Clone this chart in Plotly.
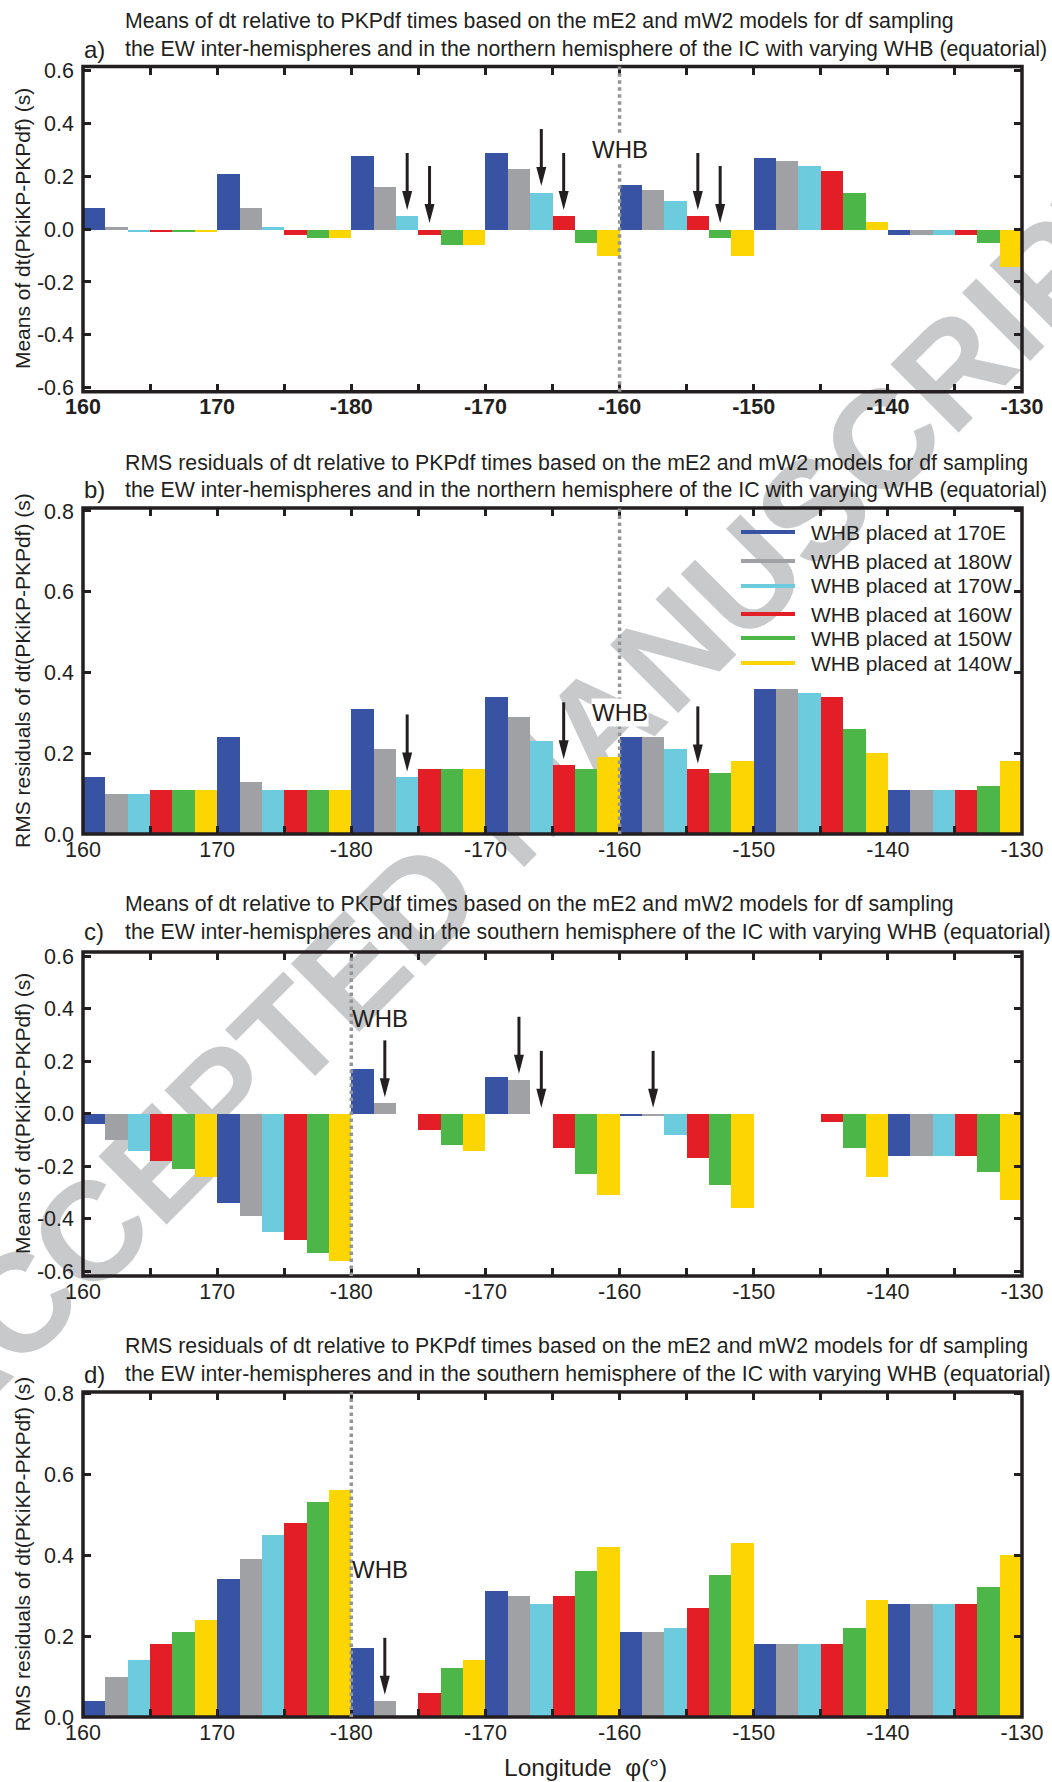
import plotly.graph_objects as go

# ---------------------------------------------------------------- data
group_centers = [165, 175, 185, 195, 205, 215, 225]          # 10-degree longitude bins
series_names = ["WHB placed at 170E", "WHB placed at 180W", "WHB placed at 170W",
                "WHB placed at 160W", "WHB placed at 150W", "WHB placed at 140W"]
series_colors = ["#3953a4", "#a0a1a5", "#6ccbdc", "#e41e26", "#4cb748", "#fdd500"]

x_tick_vals = [160, 170, 180, 190, 200, 210, 220, 230]
x_tick_text = ["160", "170", "-180", "-170", "-160", "-150", "-140", "-130"]

# panel a: means, northern hemisphere (one row per WHB placement)
means_north = [
    [0.08, 0.21, 0.28, 0.29, 0.17, 0.27, -0.02],
    [0.01, 0.08, 0.16, 0.23, 0.15, 0.26, -0.02],
    [-0.01, 0.01, 0.05, 0.14, 0.11, 0.24, -0.02],
    [-0.01, -0.02, -0.02, 0.05, 0.05, 0.22, -0.02],
    [-0.01, -0.03, -0.06, -0.05, -0.03, 0.14, -0.05],
    [-0.01, -0.03, -0.06, -0.10, -0.10, 0.03, -0.14],
]
# panel b: RMS residuals, northern hemisphere
rms_north = [
    [0.14, 0.24, 0.31, 0.34, 0.24, 0.36, 0.11],
    [0.10, 0.13, 0.21, 0.29, 0.24, 0.36, 0.11],
    [0.10, 0.11, 0.14, 0.23, 0.21, 0.35, 0.11],
    [0.11, 0.11, 0.16, 0.17, 0.16, 0.34, 0.11],
    [0.11, 0.11, 0.16, 0.16, 0.15, 0.26, 0.12],
    [0.11, 0.11, 0.16, 0.19, 0.18, 0.20, 0.18],
]
# panel c: means, southern hemisphere
means_south = [
    [-0.04, -0.34, 0.17, 0.14, -0.01, 0.00, -0.16],
    [-0.10, -0.39, 0.04, 0.13, -0.01, 0.00, -0.16],
    [-0.14, -0.45, 0.00, 0.00, -0.08, 0.00, -0.16],
    [-0.18, -0.48, -0.06, -0.13, -0.17, -0.03, -0.16],
    [-0.21, -0.53, -0.12, -0.23, -0.27, -0.13, -0.22],
    [-0.24, -0.56, -0.14, -0.31, -0.36, -0.24, -0.33],
]
# panel d: RMS residuals, southern hemisphere
rms_south = [
    [0.04, 0.34, 0.17, 0.31, 0.21, 0.18, 0.28],
    [0.10, 0.39, 0.04, 0.30, 0.21, 0.18, 0.28],
    [0.14, 0.45, 0.00, 0.28, 0.22, 0.18, 0.28],
    [0.18, 0.48, 0.06, 0.30, 0.27, 0.18, 0.28],
    [0.21, 0.53, 0.12, 0.36, 0.35, 0.22, 0.32],
    [0.24, 0.56, 0.14, 0.42, 0.43, 0.29, 0.40],
]

# arrows mark (bin index, WHB placement index)
arrows_a = [(2, 2), (2, 3), (3, 2), (3, 3), (4, 3), (4, 4)]
arrows_b = [(2, 2), (3, 3), (4, 3)]
arrows_c = [(2, 1), (3, 1), (3, 2), (4, 1)]
arrows_d = [(2, 1)]

title_mean = "Means of dt relative to PKPdf times based on the mE2 and mW2 models for df sampling"
title_rms = "RMS residuals of dt relative to PKPdf times based on the mE2 and mW2 models for df sampling"
sub_north = "the EW inter-hemispheres and in the northern hemisphere of the IC with varying WHB (equatorial)"
sub_south = "the EW inter-hemispheres and in the southern hemisphere of the IC with varying WHB (equatorial)"
ylab_mean = "Means of dt(PKiKP-PKPdf) (s)"
ylab_rms = "RMS residuals of dt(PKiKP-PKPdf) (s)"

# ---------------------------------------------------------------- layout geometry (pixels)
W, H = 1052, 1782
ML, MR = 83, 30
PW = W - ML - MR
FONT = "Liberation Sans, Arial, Helvetica, sans-serif"
INK = "#231f20"

panels = [
    dict(letter="a)", vals=means_north, top=66.5, bot=391.7, yr=[-0.615, 0.615],
         ticks=[-0.6, -0.4, -0.2, 0.0, 0.2, 0.4, 0.6], title=title_mean, sub=sub_north,
         ylab=ylab_mean, whb=200, whb_y=0.30, whb_anchor="center", arrows=arrows_a,
         t1=21, t2=49, xweight="bold"),
    dict(letter="b)", vals=rms_north, top=508, bot=834, yr=[0, 0.8074],
         ticks=[0.0, 0.2, 0.4, 0.6, 0.8], title=title_rms, sub=sub_north,
         ylab=ylab_rms, whb=200, whb_y=0.30, whb_anchor="center", arrows=arrows_b,
         t1=463, t2=490, xweight="normal"),
    dict(letter="c)", vals=means_south, top=952, bot=1276, yr=[-0.618, 0.617],
         ticks=[-0.6, -0.4, -0.2, 0.0, 0.2, 0.4, 0.6], title=title_mean, sub=sub_south,
         ylab=ylab_mean, whb=180, whb_y=0.365, whb_anchor="left", arrows=arrows_c,
         t1=904, t2=932, xweight="normal"),
    dict(letter="d)", vals=rms_south, top=1392, bot=1717, yr=[0, 0.8025],
         ticks=[0.0, 0.2, 0.4, 0.6, 0.8], title=title_rms, sub=sub_south,
         ylab=ylab_rms, whb=180, whb_y=0.365, whb_anchor="left", arrows=arrows_d,
         t1=1346, t2=1374, xweight="normal"),
]


def px_x(px):
    return (px - ML) / PW


def px_y(py):
    return 1 - py / H


bin_w = 10.0
bar_w = bin_w / len(series_names)
x_ppu = PW / 70.0

fig = go.Figure()
shapes, annotations = [], []

for k, p in enumerate(panels):
    sfx = "" if k == 0 else str(k + 1)
    xa, ya = "x" + sfx, "y" + sfx
    for s, (name, col) in enumerate(zip(series_names, series_colors)):
        fig.add_trace(go.Bar(x=group_centers, y=p["vals"][s], name=name,
                             marker=dict(color=col, line=dict(width=0)),
                             showlegend=False, xaxis=xa, yaxis=ya))

    dom = [px_y(p["bot"]), px_y(p["top"])]
    fig.layout["xaxis" + sfx] = dict(
        domain=[0, 1], anchor=ya, range=[160, 230],
        tickvals=list(range(160, 231, 5)),
        ticktext=[x_tick_text[x_tick_vals.index(v)] if v in x_tick_vals else "" for v in range(160, 231, 5)],
        ticks="inside", ticklen=8, tickwidth=2.5, tickcolor=INK,
        showline=False, mirror="ticks", showgrid=False, zeroline=False,
        tickfont=dict(family=FONT, size=21.5, color=INK, weight=p["xweight"]))
    fig.layout["yaxis" + sfx] = dict(
        domain=dom, anchor=xa, range=p["yr"],
        tickvals=p["ticks"], ticktext=["%.1f" % v for v in p["ticks"]],
        ticks="inside", ticklen=8, tickwidth=2.5, tickcolor=INK,
        showline=False, mirror="ticks", showgrid=False, zeroline=False,
        ticklabelstandoff=8,
        tickfont=dict(family=FONT, size=21.5, color=INK))

    # heavy frame centred on the plot edges
    shapes.append(dict(type="rect", xref=xa + " domain", yref=ya + " domain", x0=0, x1=1, y0=0, y1=1,
                       line=dict(color=INK, width=3.5), fillcolor="rgba(0,0,0,0)", layer="above"))

    # titles
    annotations.append(dict(text=p["title"], x=px_x(123), y=px_y(p["t1"]), xref="paper", yref="paper",
                            xanchor="left", yanchor="middle", showarrow=False,
                            font=dict(family=FONT, size=21.3, color=INK)))
    annotations.append(dict(text=p["sub"], x=px_x(123), y=px_y(p["t2"]), xref="paper", yref="paper",
                            xanchor="left", yanchor="middle", showarrow=False,
                            font=dict(family=FONT, size=21.3, color=INK)))
    annotations.append(dict(text=p["letter"], x=px_x(82), y=px_y(p["t2"]), xref="paper", yref="paper",
                            xanchor="left", yanchor="middle", showarrow=False,
                            font=dict(family=FONT, size=24, color=INK)))
    # y-axis label
    annotations.append(dict(text=p["ylab"], x=px_x(22), y=px_y((p["top"] + p["bot"]) / 2),
                            xref="paper", yref="paper", xanchor="center", yanchor="middle",
                            textangle=-90, showarrow=False,
                            font=dict(family=FONT, size=21, color=INK)))

    # WHB boundary
    shapes.append(dict(type="line", xref=xa, yref=ya + " domain", x0=p["whb"], x1=p["whb"], y0=0, y1=1,
                       line=dict(color="#939598", width=3.5, dash="dot"), layer="above"))
    annotations.append(dict(text="WHB", x=p["whb"], y=p["whb_y"], xref=xa, yref=ya,
                            xanchor=p["whb_anchor"], yanchor="middle", showarrow=False,
                            bgcolor="white" if p["whb_anchor"] == "center" else "rgba(0,0,0,0)",
                            borderpad=0,
                            font=dict(family=FONT, size=24, color=INK)))

    # arrows
    y_ppu = (p["bot"] - p["top"]) / (p["yr"][1] - p["yr"][0])
    for gi, si in p["arrows"]:
        xc = group_centers[gi] - bin_w / 2 + (si + 0.5) * bar_w
        tip = max(p["vals"][si][gi], 0) + 6 / y_ppu
        base = tip + 19 / y_ppu
        top = tip + 57 / y_ppu
        hw = 5 / x_ppu
        shapes.append(dict(type="line", xref=xa, yref=ya, x0=xc, x1=xc, y0=top, y1=base - 1 / y_ppu,
                           line=dict(color=INK, width=3), layer="above"))
        shapes.append(dict(type="path", xref=xa, yref=ya,
                           path="M %f,%f L %f,%f L %f,%f Z" % (xc - hw, base, xc + hw, base, xc, tip),
                           fillcolor=INK, line=dict(width=0), layer="above"))

# legend inside panel b (line samples + labels)
legend_rows = [532, 561, 586, 614, 638, 663]
for name, col, ry in zip(series_names, series_colors, legend_rows):
    shapes.append(dict(type="line", xref="paper", yref="paper", x0=px_x(741), x1=px_x(795),
                       y0=px_y(ry), y1=px_y(ry), line=dict(color=col, width=4), layer="above"))
    annotations.append(dict(text=name, x=px_x(809), y=px_y(ry), xref="paper", yref="paper",
                            xanchor="left", yanchor="middle", showarrow=False,
                            font=dict(family=FONT, size=21, color=INK)))

# x-axis title
annotations.append(dict(text="Longitude  \u03c6(\u00b0)", x=px_x(585), y=px_y(1767), xref="paper", yref="paper",
                        xanchor="center", yanchor="middle", showarrow=False,
                        font=dict(family=FONT, size=24.5, color=INK)))

# diagonal watermark behind the bars
cx, cy, half = 518, 786, 200
shapes.append(dict(type="line", xref="paper", yref="paper",
                   x0=px_x(cx - half * 0.7071), y0=px_y(cy + half * 0.7071),
                   x1=px_x(cx + half * 0.7071), y1=px_y(cy - half * 0.7071),
                   line=dict(color="rgba(0,0,0,0)", width=1), layer="below",
                   label=dict(text="ACCEPTED MANUSCRIPT", textposition="middle", yanchor="middle",
                              font=dict(family="Liberation Sans, Arial, sans-serif", size=140,
                                        color="#c8c9cb", weight="bold"))))

fig.update_layout(
    width=W, height=H, margin=dict(l=ML, r=MR, t=0, b=0, pad=0, autoexpand=False),
    paper_bgcolor="white", plot_bgcolor="white",
    barmode="group", bargap=0, bargroupgap=0,
    shapes=shapes, annotations=annotations, showlegend=False,
)

fig.write_html("out.html",
               post_script="document.body.style.margin='0';document.body.style.padding='0';")
